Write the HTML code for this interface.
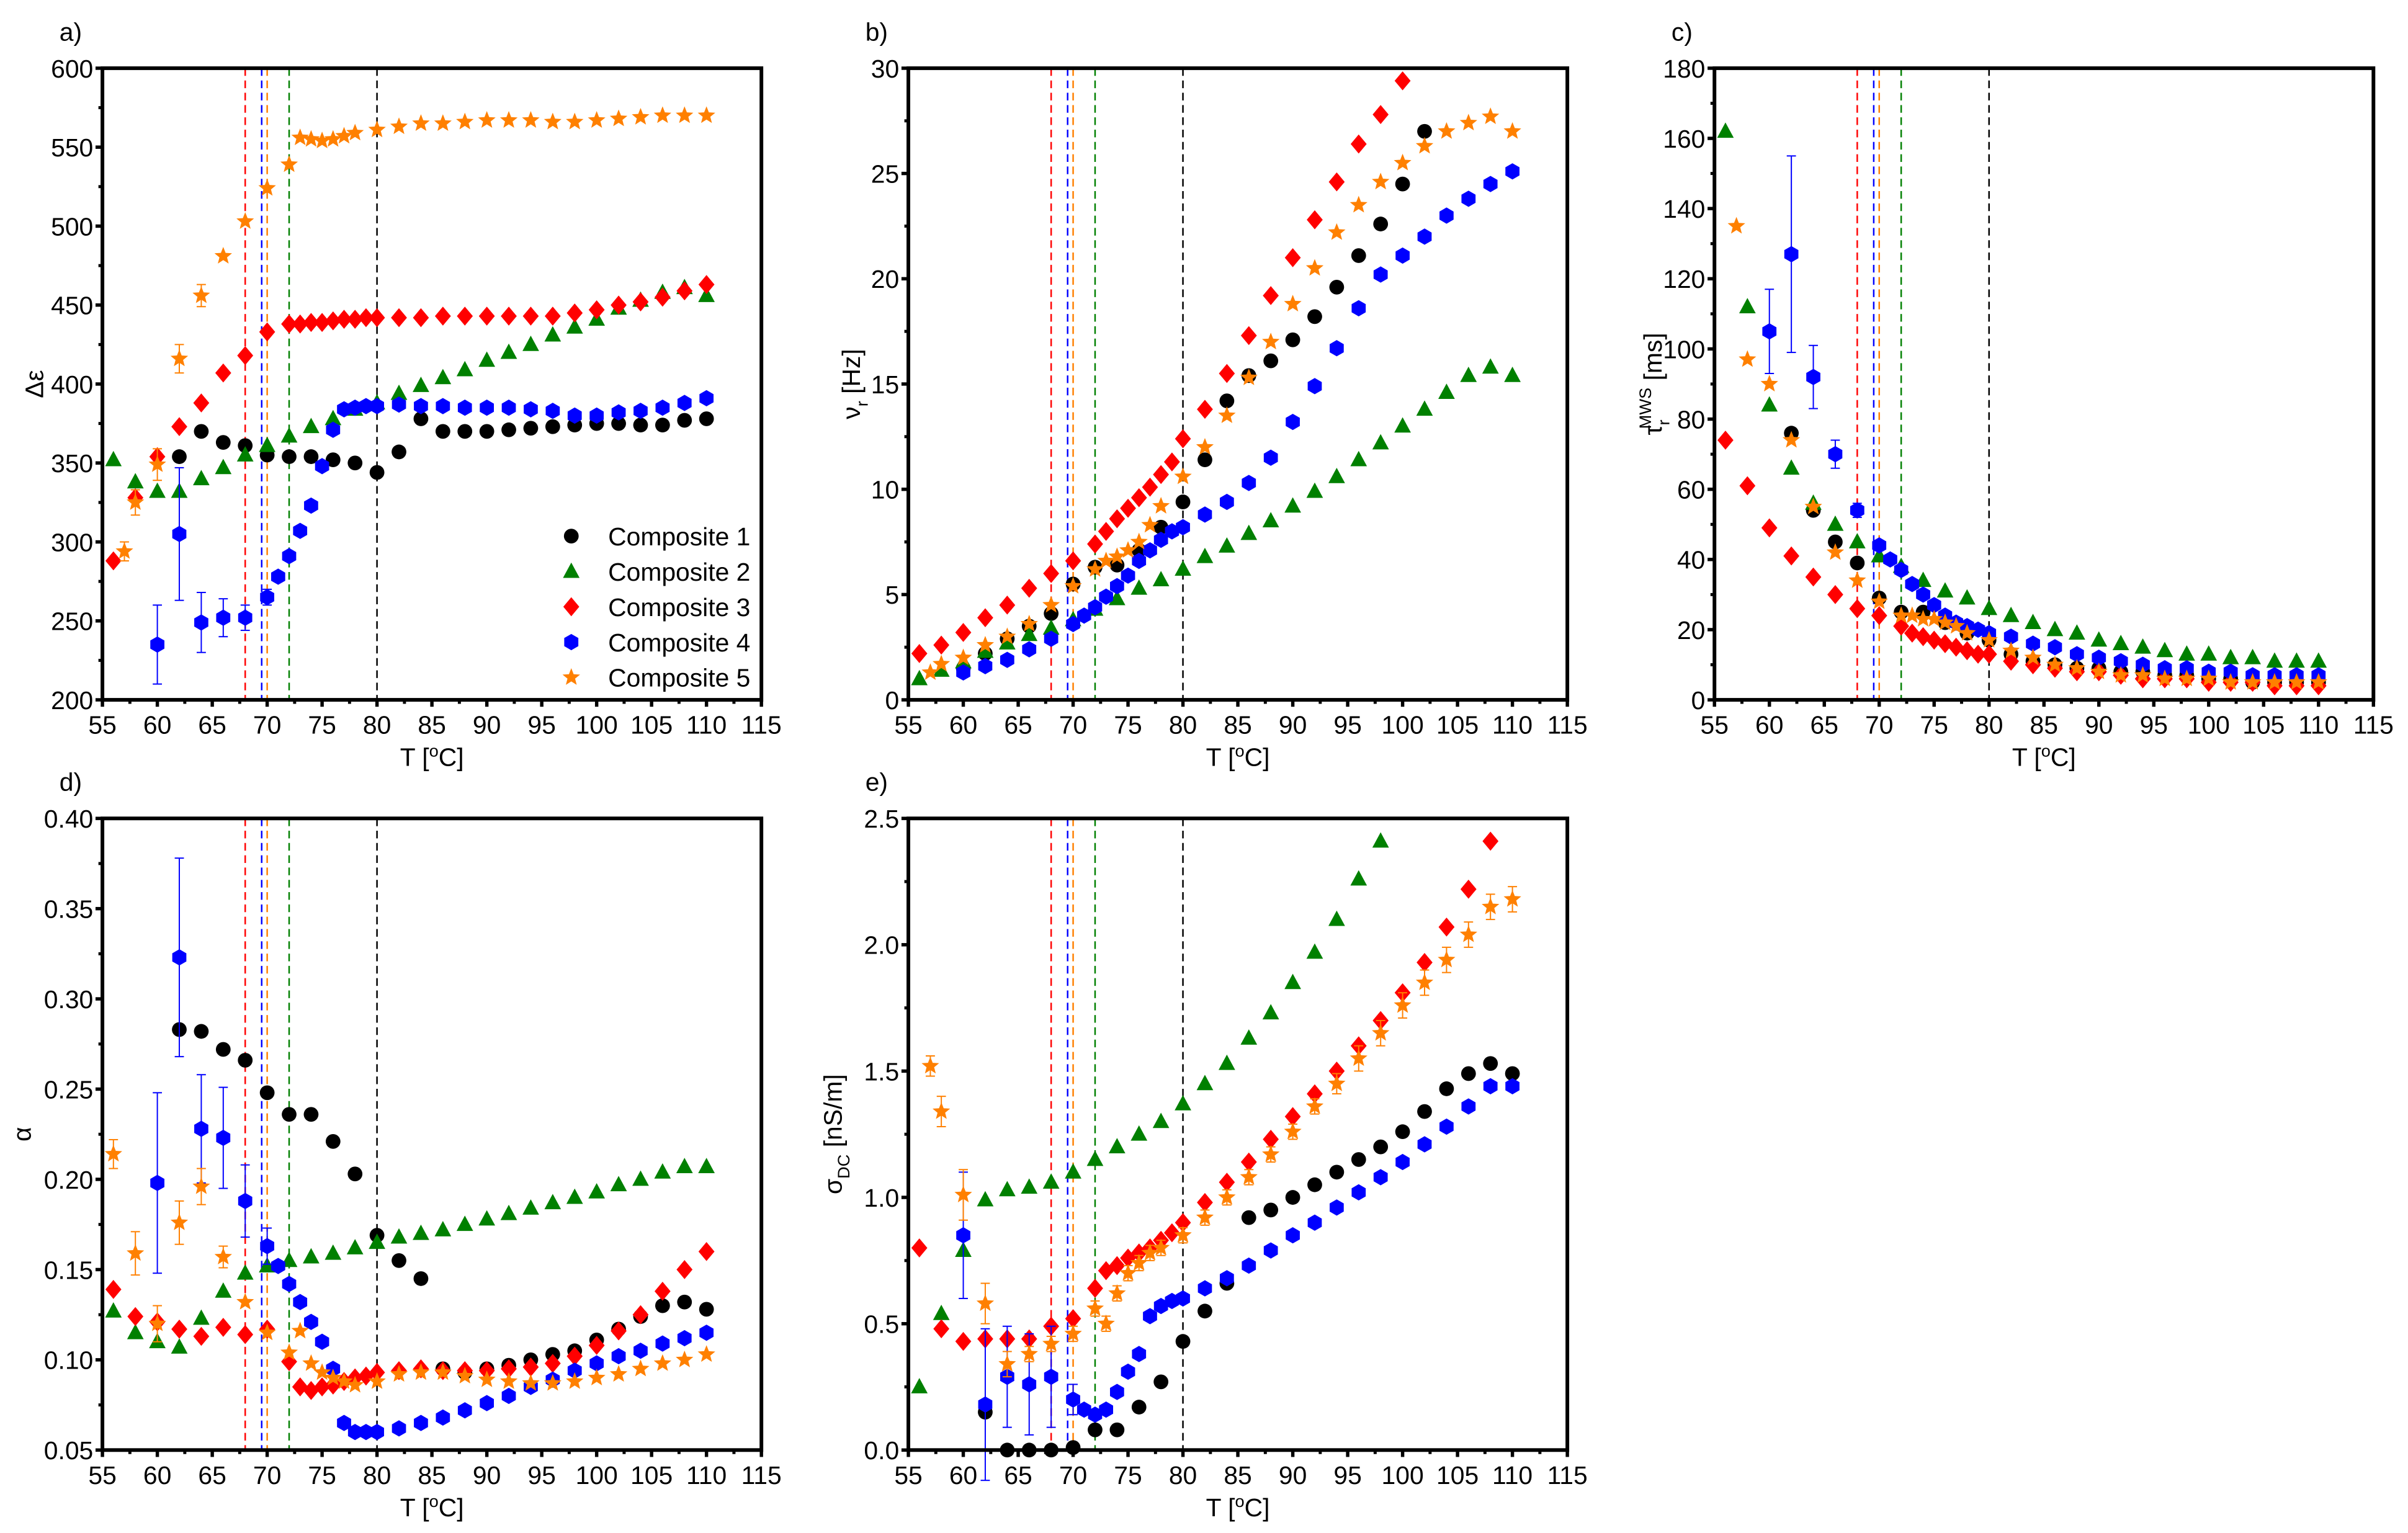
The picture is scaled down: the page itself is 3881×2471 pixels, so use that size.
<!DOCTYPE html>
<html><head><meta charset="utf-8"><style>
html,body{margin:0;padding:0;background:#fff;}
svg{display:block;font-family:"Liberation Sans",Arial,sans-serif;}
</style></head><body>
<svg id="fig" width="3881" height="2471" viewBox="0 0 1568 998" preserveAspectRatio="none" xmlns="http://www.w3.org/2000/svg"></svg>
<script>
// ---------- data ----------
const tA1=[62,64,66,68,70,72,74,76,78,80,82,84,86,88,90,92,94,96,98,100,102,104,106,108,110];
const vA1=[354,370,363,361,355,354,354,352,350,344,357,378,370,370,370,371,372,373,374,375,375,374,374,377,378];
const tA2=[56,58,60,62,64,66,68,70,72,74,76,78,80,82,84,86,88,90,92,94,96,98,100,102,104,106,108,110];
const vA2=[352,338,332,332,340,347,355,361,367,373,378,384,388,394,399,404,409,415,420,425,431,436,441,448,453,458,461,456];
const tA3=[56,58,60,62,64,66,68,70,72,73,74,75,76,77,78,79,80,82,84,86,88,90,92,94,96,98,100,102,104,106,108,110];
const vA3=[288,328,354,373,388,407,418,433,438,438,439,439,440,441,441,442,442,442,442,443,443,443,443,443,443,445,447,450,452,455,459,463];
const tA4=[60,62,64,66,68,70,71,72,73,74,75,76,77,78,79,80,82,84,86,88,90,92,94,96,98,100,102,104,106,108,110];
const vA4=[235,305,249,252,252,265,278,291,307,323,348,371,384,385,386,386,387,386,386,385,385,385,384,383,380,380,382,383,385,388,391];
const eA4=[25,42,19,12,8,5,0,0,0,0,0,0,0,0,0,0,0,0,0,0,0,0,0,0,0,0,0,0,0,0,0];
const tA5=[57,58,60,62,64,66,68,70,72,73,74,75,76,77,78,80,82,84,86,88,90,92,94,96,98,100,102,104,106,108,110];
const vA5=[294,325,349,416,456,481,503,524,539,556,555,554,555,557,559,561,563,565,565,566,567,567,567,566,566,567,568,569,570,570,570];
const eA5=[6,8,10,9,7,0,0,0,0,0,0,0,0,0,0,0,0,0,0,0,0,0,0,0,0,0,0,0,0,0,0];

const tB1=[60,62,64,66,68,70,72,74,76,78,80,82,84,86,88,90,92,94,96,98,100,102];
const vB1=[1.5,2.2,2.9,3.5,4.1,5.5,6.3,6.4,7.1,8.2,9.4,11.4,14.2,15.4,16.1,17.1,18.2,19.6,21.1,22.6,24.5,27.0];
const tB2=tA2;
const vB2=[1.0,1.4,1.8,2.3,2.7,3.1,3.4,3.8,4.3,4.8,5.3,5.7,6.2,6.8,7.3,7.9,8.5,9.2,9.9,10.6,11.4,12.2,13.0,13.8,14.6,15.4,15.8,15.4];
const tB3=[56,58,60,62,64,66,68,70,72,73,74,75,76,77,78,79,80,82,84,86,88,90,92,94,96,98,100];
const vB3=[2.2,2.6,3.2,3.9,4.5,5.3,6.0,6.6,7.4,8.0,8.6,9.1,9.6,10.1,10.7,11.3,12.4,13.8,15.5,17.3,19.2,21.0,22.8,24.6,26.4,27.8,29.4];
const tB4=[60,62,64,66,68,70,71,72,73,74,75,76,77,78,79,80,82,84,86,88,90,92,94,96,98,100,102,104,106,108,110];
const vB4=[1.3,1.6,1.9,2.4,2.9,3.6,4.0,4.4,4.9,5.4,5.9,6.6,7.1,7.6,8.0,8.2,8.8,9.4,10.3,11.5,13.2,14.9,16.7,18.6,20.2,21.1,22.0,23.0,23.8,24.5,25.1];
const tB5=[57,58,60,62,64,66,68,70,72,73,74,75,76,77,78,80,82,84,86,88,90,92,94,96,98,100,102,104,106,108,110];
const vB5=[1.3,1.7,2.0,2.6,3.0,3.6,4.5,5.4,6.2,6.6,6.8,7.1,7.5,8.3,9.2,10.6,12.0,13.5,15.3,17.0,18.8,20.5,22.2,23.5,24.6,25.5,26.3,27.0,27.4,27.7,27.0];

const tC1=tA1;
const vC1=[76,54,45,39,29,25,25,22,19,17,13,11,10,9,9,8,8,7,7,6,6,5,5,5,5];
const tC2=tA2;
const vC2=[162,112,84,66,56,50,45,41,38,34,31,29,26,24,22,20,19,17,16,15,14,13,13,12,12,11,11,11];
const tC3=tA3;
const vC3=[74,61,49,41,35,30,26,24,21,19,18,17,16,15,14,13,13,11,10,9,8,8,7,6,6,6,5,5,5,4,4,4];
const tC4=tA4;
const vC4=[105,127,92,70,54,44,40,37,33,30,27,24,22,21,20,19,18,16,15,13,12,11,10,9,9,8,8,7,7,7,7];
const eC4=[12,28,9,4,2,0,0,0,0,0,0,0,0,0,0,0,0,0,0,0,0,0,0,0,0,0,0,0,0,0,0];
const tC5=tA5;
const vC5=[135,97,90,74,55,42,34,28,24,24,23,23,22,21,19,17,14,12,10,9,8,7,7,6,6,6,5,5,5,5,5];

const tD1=tA1;
const vD1=[0.283,0.282,0.272,0.266,0.248,0.236,0.236,0.221,0.203,0.169,0.155,0.145,0.095,0.093,0.095,0.097,0.100,0.103,0.105,0.111,0.117,0.124,0.130,0.132,0.128];
const tD2=tA2;
const vD2=[0.127,0.115,0.110,0.107,0.123,0.138,0.148,0.152,0.155,0.157,0.159,0.162,0.165,0.168,0.170,0.172,0.175,0.178,0.181,0.184,0.187,0.190,0.193,0.197,0.200,0.204,0.207,0.207];
const tD3=tA3;
const vD3=[0.139,0.124,0.121,0.117,0.113,0.118,0.114,0.117,0.099,0.085,0.083,0.085,0.086,0.088,0.090,0.091,0.093,0.094,0.095,0.094,0.094,0.094,0.095,0.096,0.098,0.102,0.108,0.116,0.125,0.138,0.150,0.160];
const tD4=tA4;
const vD4=[0.198,0.323,0.228,0.223,0.188,0.163,0.152,0.142,0.132,0.121,0.110,0.095,0.065,0.060,0.060,0.060,0.062,0.065,0.068,0.072,0.076,0.080,0.085,0.089,0.094,0.098,0.102,0.105,0.109,0.112,0.115];
const eD4=[0.05,0.055,0.03,0.028,0.02,0.01,0,0,0,0,0,0,0,0,0,0,0,0,0,0,0,0,0,0,0,0,0,0,0,0,0];
const tD5=[56,58,60,62,64,66,68,70,72,73,74,75,76,77,78,80,82,84,86,88,90,92,94,96,98,100,102,104,106,108,110];
const vD5=[0.214,0.159,0.120,0.176,0.196,0.157,0.132,0.115,0.104,0.116,0.098,0.093,0.090,0.088,0.086,0.088,0.092,0.093,0.093,0.091,0.089,0.088,0.087,0.087,0.088,0.090,0.092,0.095,0.098,0.100,0.103];
const eD5=[0.008,0.012,0.01,0.012,0.01,0.006,0,0,0,0,0,0,0,0,0,0,0,0,0,0,0,0,0,0,0,0,0,0,0,0,0];

const tE1=tA1;
const vE1=[0.15,0.0,0.0,0.0,0.01,0.08,0.08,0.17,0.27,0.43,0.55,0.66,0.92,0.95,1.0,1.05,1.10,1.15,1.20,1.26,1.34,1.43,1.49,1.53,1.49];
const tE2=[56,58,60,62,64,66,68,70,72,74,76,78,80,82,84,86,88,90,92,94,96,98];
const vE2=[0.25,0.54,0.79,0.99,1.03,1.04,1.06,1.10,1.15,1.20,1.25,1.30,1.37,1.45,1.53,1.63,1.73,1.85,1.97,2.10,2.26,2.41];
const tE3=[56,58,60,62,64,66,68,70,72,73,74,75,76,77,78,79,80,82,84,86,88,90,92,94,96,98,100,102,104,106,108];
const vE3=[0.80,0.48,0.43,0.44,0.44,0.44,0.49,0.52,0.64,0.71,0.73,0.76,0.78,0.80,0.83,0.86,0.90,0.98,1.06,1.14,1.23,1.32,1.41,1.50,1.60,1.70,1.81,1.93,2.07,2.22,2.41];
const tE4=tA4;
const vE4=[0.85,0.18,0.29,0.26,0.29,0.20,0.16,0.14,0.16,0.23,0.31,0.38,0.53,0.57,0.59,0.60,0.64,0.68,0.73,0.79,0.85,0.90,0.96,1.02,1.08,1.14,1.21,1.28,1.36,1.44,1.44];
const eE4=[0.25,0.3,0.2,0.2,0.2,0.06,0,0,0,0,0,0,0,0,0,0,0,0,0,0,0,0,0,0,0,0,0,0,0,0,0];
const tE5=tA5;
const vE5=[1.52,1.34,1.01,0.58,0.34,0.38,0.42,0.46,0.56,0.50,0.62,0.70,0.74,0.78,0.80,0.85,0.92,1.00,1.08,1.17,1.26,1.36,1.45,1.55,1.65,1.76,1.85,1.94,2.04,2.15,2.18];
const eE5=[0.04,0.06,0.1,0.08,0.05,0.03,0.03,0.03,0.03,0.03,0.03,0.03,0.03,0.03,0.03,0.03,0.03,0.03,0.03,0.03,0.03,0.03,0.04,0.05,0.05,0.05,0.05,0.05,0.05,0.05,0.05];

const xTicks=[55,60,65,70,75,80,85,90,95,100,105,110,115];
const vLinesT=[68,69.5,70,72,80];
const vLinesC=["#ff0000","#0000ff","#ff8000","#008000","#000000"];
const seriesNames=["Composite 1","Composite 2","Composite 3","Composite 4","Composite 5"];

// ---------- drawing ----------
const NS="http://www.w3.org/2000/svg";
const svg=document.getElementById('fig');
function el(tag,attrs,parent){const e=document.createElementNS(NS,tag);for(const k in attrs)e.setAttribute(k,attrs[k]);(parent||svg).appendChild(e);return e;}
const COLORS=["#000000","#008000","#ff0000","#0000ff","#ff8000"];

function marker(g,type,cx,cy,color){
  let m;
  if(type===0){m=el('circle',{cx:cx,cy:cy,r:4.8,fill:color},g);}
  else if(type===1){m=el('polygon',{points:`${cx},${cy-5.8} ${cx+5.4},${cy+4.2} ${cx-5.4},${cy+4.2}`,fill:color},g);}
  else if(type===2){m=el('polygon',{points:`${cx},${cy-6.2} ${cx+5.2},${cy} ${cx},${cy+6.2} ${cx-5.2},${cy}`,fill:color},g);}
  else if(type===3){let p=[];for(let i=0;i<6;i++){const a=Math.PI/6+i*Math.PI/3;p.push((cx+5.3*Math.cos(a)).toFixed(2)+','+(cy+5.3*Math.sin(a)).toFixed(2));}m=el('polygon',{points:p.join(' '),fill:color},g);}
  else {let p=[];for(let i=0;i<10;i++){const a=-Math.PI/2+i*Math.PI/5;const r=i%2?2.6:6;p.push((cx+r*Math.cos(a)).toFixed(2)+','+(cy+r*Math.sin(a)).toFixed(2));}m=el('polygon',{points:p.join(' '),fill:color},g);}
  return m;
}

function panel(o){
  const g=el('g',{});
  
  
  const X=t=>o.x0+(t-55)/(115-55)*(o.x1-o.x0);
  const Y=v=>o.y1-(v-o.ymin)/(o.ymax-o.ymin)*(o.y1-o.y0);
  vLinesT.forEach((t,i)=>{
    const l=el('line',{x1:X(t),x2:X(t),y1:o.y0,y2:o.y1,stroke:vLinesC[i],'stroke-width':1,'stroke-dasharray':'5,3'},g);
    
    
  });
  o.series.forEach((s,si)=>{
    const sg=el('g',{},g);
    
    
    s.t.forEach((t,i)=>{
      const v=s.v[i];
      if(s.e&&s.e[i]>0){
        const y0=Y(v-s.e[i]),y1=Y(v+s.e[i]);
        el('line',{x1:X(t),x2:X(t),y1:y0,y2:y1,stroke:COLORS[si],'stroke-width':0.8},sg);
        el('line',{x1:X(t)-3,x2:X(t)+3,y1:y0,y2:y0,stroke:COLORS[si],'stroke-width':0.8},sg);
        el('line',{x1:X(t)-3,x2:X(t)+3,y1:y1,y2:y1,stroke:COLORS[si],'stroke-width':0.8},sg);
      }
      const m=marker(sg,si,X(t),Y(v),COLORS[si]);
      
      
    });
  });
  const fr=el('rect',{x:o.x0,y:o.y0,width:o.x1-o.x0,height:o.y1-o.y0,fill:'none',stroke:'#000','stroke-width':2.4},g);
  
  
  xTicks.forEach((t,i)=>{
    el('line',{x1:X(t),x2:X(t),y1:o.y1,y2:o.y1+4.5,stroke:'#000','stroke-width':2.2},g);
    if(t<115) el('line',{x1:X(t+2.5),x2:X(t+2.5),y1:o.y1,y2:o.y1+2.6,stroke:'#000','stroke-width':2},g);
    const tx=el('text',{x:X(t),y:o.y1+22,'font-size':16.5,'text-anchor':'middle'},g);
    tx.textContent=t;
    
    
  });
  for(let k=0;k<o.yTicks.length;k++){
    const v=o.yTicks[k];
    el('line',{x1:o.x0-4.5,x2:o.x0,y1:Y(v),y2:Y(v),stroke:'#000','stroke-width':2.2},g);
    if(k<o.yTicks.length-1){const mv=(v+o.yTicks[k+1])/2;el('line',{x1:o.x0-2.6,x2:o.x0,y1:Y(mv),y2:Y(mv),stroke:'#000','stroke-width':2},g);}
    const tx=el('text',{x:o.x0-6,y:Y(v)+6,'font-size':16.5,'text-anchor':'end'},g);
    tx.textContent=o.yLabels[k];
    
    
  }
  const xt=el('text',{x:(o.x0+o.x1)/2,y:o.y1+43,'font-size':16.5,'text-anchor':'middle'},g);
  xt.innerHTML='T [<tspan font-size="11" dy="-6">o</tspan><tspan dy="6">C]</tspan>';
  
  
  const yt=el('text',{transform:`translate(${o.ytx},${(o.y0+o.y1)/2}) rotate(-90)`,'font-size':16.5,'text-anchor':'middle'},g);
  yt.innerHTML=o.ytitle;
  
  
  const pl=el('text',{x:o.x0-28,y:o.y0-18,'font-size':16.5},g);
  pl.textContent=o.letter;
  
  
  return {g,X,Y};
}

function fmt(a,d){return a.map(v=>v.toFixed(d));}
const yA=[200,250,300,350,400,450,500,550,600];
const yB=[0,5,10,15,20,25,30];
const yC=[0,20,40,60,80,100,120,140,160,180];
const yD=[0.05,0.10,0.15,0.20,0.25,0.30,0.35,0.40];
const yE=[0,0.5,1.0,1.5,2.0,2.5];

panel({name:'panel-a-permittivity',letter:'a)',x0:66.7,x1:495.8,y0:44.4,y1:455.6,ymin:200,ymax:600,yTicks:yA,yLabels:fmt(yA,0),ytx:28,ytitle:'Δε',
  series:[{t:tA1,v:vA1},{t:tA2,v:vA2},{t:tA3,v:vA3},{t:tA4,v:vA4,e:eA4},{t:tA5,v:vA5,e:eA5}]});
panel({name:'panel-b-relaxation-frequency',letter:'b)',x0:591.5,x1:1020.6,y0:44.4,y1:455.6,ymin:0,ymax:30,yTicks:yB,yLabels:fmt(yB,0),ytx:560,ytitle:'ν<tspan font-size="11" dy="5">r</tspan><tspan dy="-5"> [Hz]</tspan>',
  series:[{t:tB1,v:vB1},{t:tB2,v:vB2},{t:tB3,v:vB3},{t:tB4,v:vB4},{t:tB5,v:vB5}]});
panel({name:'panel-c-relaxation-time',letter:'c)',x0:1116.4,x1:1545.5,y0:44.4,y1:455.6,ymin:0,ymax:180,yTicks:yC,yLabels:fmt(yC,0),ytx:1082,ytitle:'τ<tspan font-size="11" dy="5">r</tspan><tspan font-size="11" dy="-12" dx="-6">MWS</tspan><tspan dy="7"> [ms]</tspan>',
  series:[{t:tC1,v:vC1},{t:tC2,v:vC2},{t:tC3,v:vC3},{t:tC4,v:vC4,e:eC4},{t:tC5,v:vC5}]});
panel({name:'panel-d-alpha',letter:'d)',x0:66.7,x1:495.8,y0:532.8,y1:944,ymin:0.05,ymax:0.40,yTicks:yD,yLabels:fmt(yD,2),ytx:20,ytitle:'α',
  series:[{t:tD1,v:vD1},{t:tD2,v:vD2},{t:tD3,v:vD3},{t:tD4,v:vD4,e:eD4},{t:tD5,v:vD5,e:eD5}]});
panel({name:'panel-e-dc-conductivity',letter:'e)',x0:591.5,x1:1020.6,y0:532.8,y1:944,ymin:0,ymax:2.5,yTicks:yE,yLabels:fmt(yE,1),ytx:548,ytitle:'σ<tspan font-size="11" dy="5">DC</tspan><tspan dy="-5"> [nS/m]</tspan>',
  series:[{t:tE1,v:vE1},{t:tE2,v:vE2},{t:tE3,v:vE3},{t:tE4,v:vE4,e:eE4},{t:tE5,v:vE5,e:eE5}]});

const lg=el('g',{});


seriesNames.forEach((n,i)=>{
  const y=349+i*23;
  const m=marker(lg,i,372,y,COLORS[i]);
  
  
  const t=el('text',{x:396,y:y+6,'font-size':16.5},lg);
  t.textContent=n;
  
  
});
</script>
</body></html>
